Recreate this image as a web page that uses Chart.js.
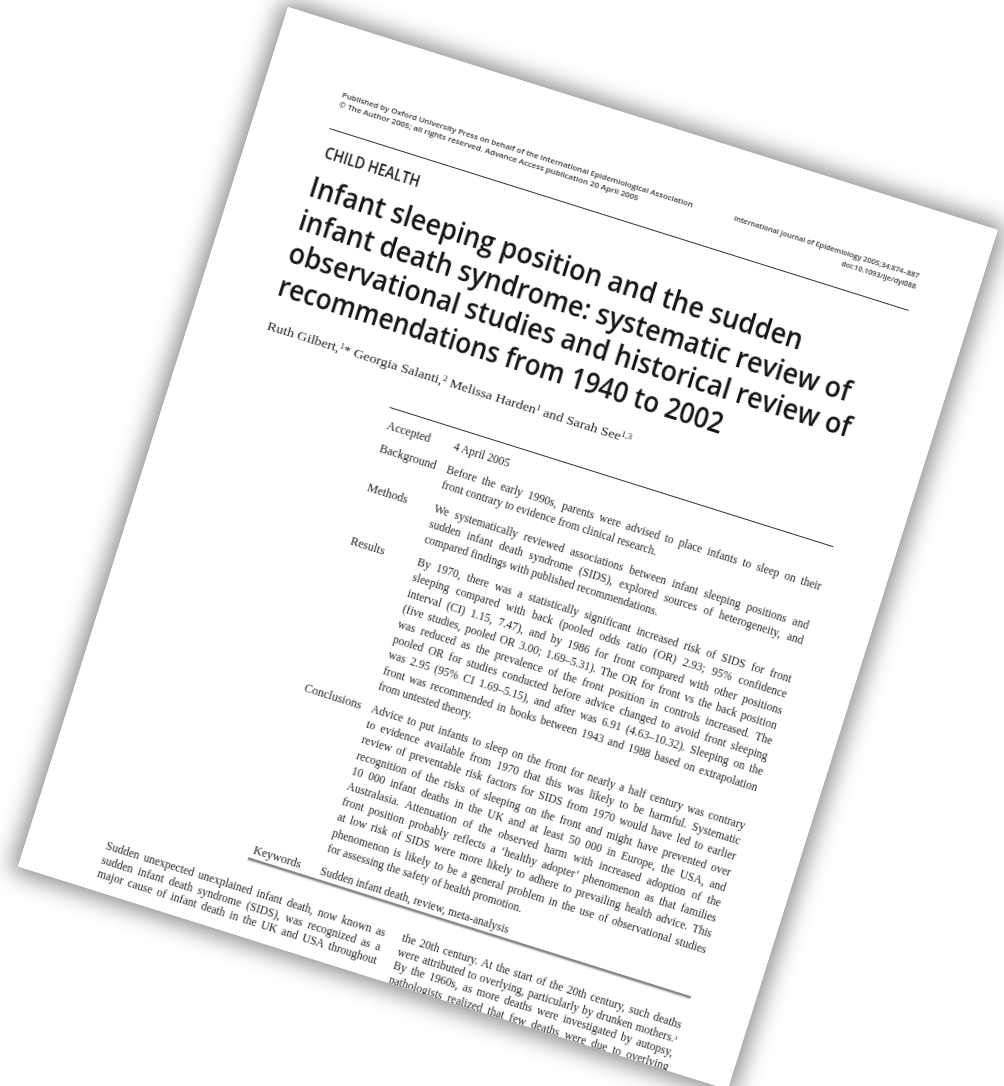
<!DOCTYPE html>
<html><head><meta charset="utf-8">
<script src="https://cdn.jsdelivr.net/npm/chart.js@4.4.1/dist/chart.umd.min.js"></script>
<style>
html,body{margin:0;padding:0;width:1004px;height:1086px;overflow:hidden;background:#fff;}
#page{position:absolute;left:0;top:0;width:744px;height:901px;transform-origin:0 0;
  transform:translate(288px,7px) rotate(17.44deg);background:#fff;
  box-shadow:0 0 22px 6px rgba(0,0,0,0.46);overflow:hidden;}
#inner{position:absolute;left:0;top:0;width:744px;height:901px;filter:blur(0.45px);}
#sheet{position:absolute;left:0;top:0;}
.t{position:absolute;white-space:nowrap;transform-origin:0 0;line-height:1;}
.t sup{font-size:0.62em;vertical-align:0.45em;line-height:0;}
.rule{position:absolute;}
</style></head><body>
<div id="page"><div id="inner"><canvas id="sheet" width="744" height="901"></canvas></div></div>
<script>
// ---- text content ----
const headerLeft = [
  "Published by Oxford University Press on behalf of the International Epidemiological Association",
  "© The Author 2005; all rights reserved. Advance Access publication 20 April 2005"
];
const headerRight = [
  "International Journal of Epidemiology 2005;34:874–887",
  "doi:10.1093/ije/dyi088"
];
const sectionName = "CHILD HEALTH";
const titleLines = [
  "Infant sleeping position and the sudden",
  "infant death syndrome: systematic review of",
  "observational studies and historical review of",
  "recommendations from 1940 to 2002"
];
const authorsLine = "Ruth Gilbert,<sup>1</sup>* Georgia Salanti,<sup>2</sup> Melissa Harden<sup>1</sup> and Sarah See<sup>1,3</sup>";
const abstractLabels = ["Accepted", "Background", "Methods", "Results", "Conclusions", "Keywords"];
const abstractText = [
  ["4 April 2005"],
  ["Before the early 1990s, parents were advised to place infants to sleep on their",
   "front contrary to evidence from clinical research."],
  ["We systematically reviewed associations between infant sleeping positions and",
   "sudden infant death syndrome (SIDS), explored sources of heterogeneity, and",
   "compared findings with published recommendations."],
  ["By 1970, there was a statistically significant increased risk of SIDS for front",
   "sleeping compared with back (pooled odds ratio (OR) 2.93; 95% confidence",
   "interval (CI) 1.15, 7.47), and by 1986 for front compared with other positions",
   "(five studies, pooled OR 3.00; 1.69–5.31). The OR for front vs the back position",
   "was reduced as the prevalence of the front position in controls increased. The",
   "pooled OR for studies conducted before advice changed to avoid front sleeping",
   "was 2.95 (95% CI 1.69–5.15), and after was 6.91 (4.63–10.32). Sleeping on the",
   "front was recommended in books between 1943 and 1988 based on extrapolation",
   "from untested theory."],
  ["Advice to put infants to sleep on the front for nearly a half century was contrary",
   "to evidence available from 1970 that this was likely to be harmful. Systematic",
   "review of preventable risk factors for SIDS from 1970 would have led to earlier",
   "recognition of the risks of sleeping on the front and might have prevented over",
   "10 000 infant deaths in the UK and at least 50 000 in Europe, the USA, and",
   "Australasia. Attenuation of the observed harm with increased adoption of the",
   "front position probably reflects a ‘healthy adopter’ phenomenon as that families",
   "at low risk of SIDS were more likely to adhere to prevailing health advice. This",
   "phenomenon is likely to be a general problem in the use of observational studies",
   "for assessing the safety of health promotion."],
  ["Sudden infant death, review, meta-analysis"]
];
const bodyLeft = [
  "Sudden unexpected unexplained infant death, now known as",
  "sudden infant death syndrome (SIDS), was recognized as a",
  "major cause of infant death in the UK and USA throughout"
];
const bodyRight = [
  "the 20th century. At the start of the 20th century, such deaths",
  "were attributed to overlying, particularly by drunken mothers.<sup>1</sup>",
  "By the 1960s, as more deaths were investigated by autopsy,",
  "pathologists realized that few deaths were due to overlying"
];

// ---- page sheet drawn with Chart.js ----
try {
  new Chart(document.getElementById('sheet'), {
    type: 'scatter',
    data: { datasets: [] },
    options: {
      responsive: false, animation: false, events: [],
      plugins: { legend: { display: false }, tooltip: { enabled: false } },
      scales: { x: { display: false }, y: { display: false } }
    },
    plugins: [{
      id: 'paper',
      beforeDraw(c) { const g = c.ctx; g.save(); g.fillStyle = '#ffffff'; g.fillRect(0, 0, c.width, c.height); g.restore(); }
    }]
  });
} catch (e) {}

// ---- layout helpers ----
const inner = document.getElementById('inner');
const SERIF = '"Liberation Serif","DejaVu Serif",serif';
const SANS = '"Open Sans","Noto Sans",sans-serif';

function line(html, u, base, o) {
  const d = document.createElement('div');
  d.className = 't';
  d.innerHTML = html;
  d.style.fontFamily = o.family || SERIF;
  d.style.fontSize = o.size + 'px';
  d.style.fontWeight = o.weight || 400;
  d.style.color = o.color || '#222';
  d.style.left = '0px'; d.style.top = '0px';
  const probe = document.createElement('span');
  probe.style.cssText = 'display:inline-block;width:0;height:0;vertical-align:baseline;';
  d.appendChild(probe);
  inner.appendChild(d);
  const baseOff = probe.offsetTop;
  const nat = d.offsetWidth;
  let left = u;
  if (o.mode === 'scale' && o.width) {
    d.style.transform = 'scaleX(' + (o.width / nat) + ')';
  } else if (o.mode === 'justify' && o.width) {
    const spaces = (d.textContent.match(/ /g) || []).length;
    if (nat < o.width && spaces > 0) d.style.wordSpacing = ((o.width - nat) / spaces) + 'px';
    else if (nat > o.width) d.style.transform = 'scaleX(' + (o.width / nat) + ')';
  } else if (o.mode === 'right') {
    left = u - nat;
  }
  d.style.left = left + 'px';
  d.style.top = (base - baseOff) + 'px';
  return d;
}
function rule(u1, u2, v, th, color, shadow) {
  const r = document.createElement('div');
  r.className = 'rule';
  r.style.left = u1 + 'px'; r.style.width = (u2 - u1) + 'px';
  r.style.top = v + 'px'; r.style.height = th + 'px';
  r.style.background = color;
  if (shadow) r.style.boxShadow = shadow;
  inner.appendChild(r);
}

// header
const hdrBase = [70, 80];
headerLeft.forEach((s, i) => line(s, 78, hdrBase[i], { family: SANS, size: 7.4, weight: 600, color: '#333', mode: 'scale', width: i === 0 ? 368 : 314 }));
headerRight.forEach((s, i) => line(s, 683, [69.5, 81][i], { family: SANS, size: 7.4, weight: 600, color: '#333', mode: 'right' }));
rule(76, 683, 103, 1.3, '#333');

// section label and title
line(sectionName, 79, 133, { family: SANS, size: 16, weight: 600, color: '#1a1a1a', mode: 'scale', width: 99 });
const titleBase = [174, 208.5, 243, 277.5];
const titleEnd = [591, 652, 663, 540];
titleLines.forEach((s, i) => line(s, 75, titleBase[i], { family: SANS, size: 29, weight: 600, color: '#151515', mode: 'scale', width: titleEnd[i] - 75 }));

// authors
line(authorsLine, 76, 314, { family: SERIF, size: 13.5, color: '#222', mode: 'scale', width: 381 });

// abstract
rule(217, 682, 351, 1.1, '#333');
const LH = 16.2, GAP = 8;
let v = 373;
abstractLabels.forEach((lab, r) => {
  line(lab, 220, v, { family: SERIF, size: 12, color: '#222' });
  const rows = abstractText[r];
  rows.forEach((s, k) => {
    const last = k === rows.length - 1;
    line(s, 290, v + k * LH, { family: SERIF, size: 11.5, color: '#222', mode: last ? null : 'justify', width: 392 });
  });
  if (r < abstractLabels.length - 1) v += rows.length * LH + GAP;
});
rule(217, 681, v + 5, 2, '#858585', '0 1px 1.5px rgba(0,0,0,0.35)');

// body columns
bodyLeft.forEach((s, k) => line(s, 78, 858 + k * 14.5, { family: SERIF, size: 11.5, color: '#222', mode: 'justify', width: 292 }));
bodyRight.forEach((s, k) => line(s, 388, 857 + k * 14.5, { family: SERIF, size: 11.5, color: '#222', mode: 'justify', width: 293 }));
</script>
</body></html>
